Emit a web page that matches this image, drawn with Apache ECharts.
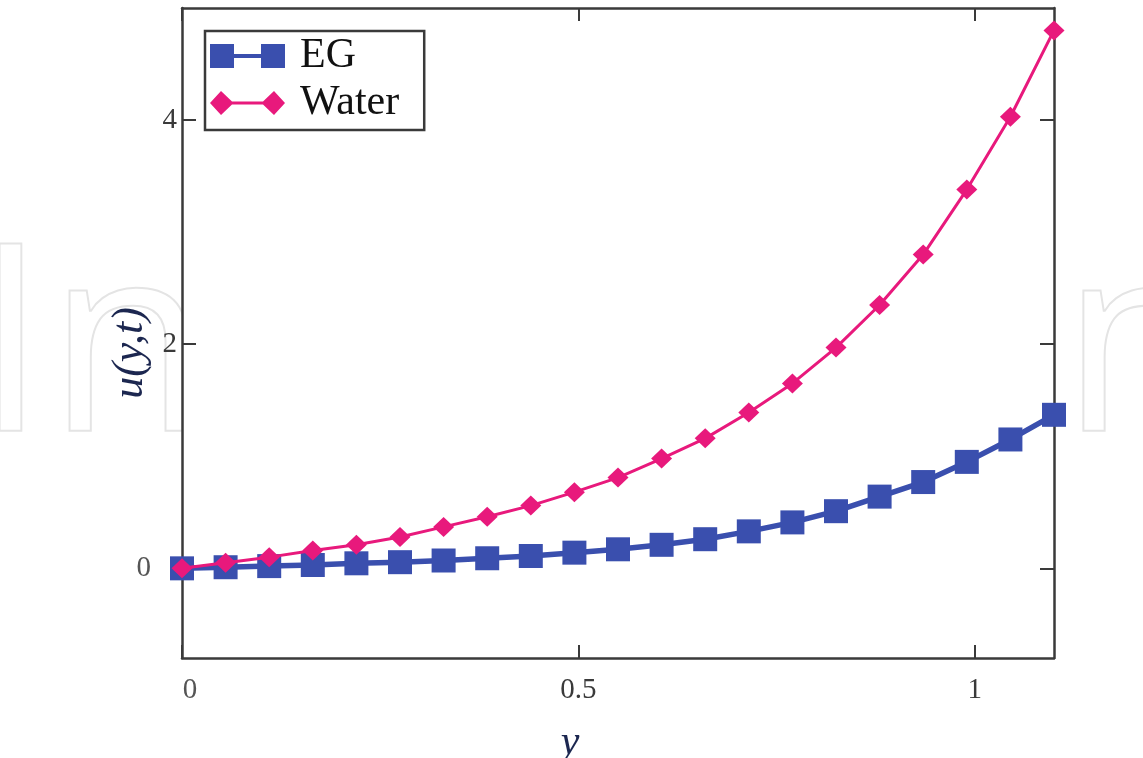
<!DOCTYPE html>
<html>
<head>
<meta charset="utf-8">
<script src="https://cdn.jsdelivr.net/npm/echarts@6/dist/echarts.min.js"></script>
<style>
  html, body { margin: 0; padding: 0; background: #fff; }
  #main { width: 1143px; height: 758px; }
</style>
</head>
<body>
<div id="main"></div>
<script>
// y positions (x-axis values) shared by both curves
var yPos = [0, 0.055, 0.11, 0.165, 0.22, 0.275, 0.33, 0.385, 0.44, 0.495, 0.55,
            0.605, 0.66, 0.715, 0.77, 0.825, 0.88, 0.935, 0.99, 1.045, 1.1];
var egVals = [0, 0.01, 0.02, 0.03, 0.045, 0.055, 0.07, 0.09, 0.11, 0.14, 0.17,
              0.21, 0.26, 0.33, 0.41, 0.51, 0.64, 0.77, 0.95, 1.15, 1.37];
var waterVals = [0, 0.05, 0.10, 0.16, 0.21, 0.28, 0.37, 0.46, 0.56, 0.68, 0.81,
                 0.98, 1.16, 1.39, 1.65, 1.97, 2.35, 2.80, 3.38, 4.03, 4.80];
var xTicks = [0, 0.5, 1];
var yTicks = [0, 2, 4];

var serif = '"Liberation Serif", "DejaVu Serif", serif';
var frame = '#3a3a3a';

// legend icons: line with a marker at each end
var egIcon = 'path://M0 0L24 0L24 10L51 10L51 0L75 0L75 24L51 24L51 14L24 14L24 24L0 24Z';
var waterIcon = 'path://M0 12L11 0L22 10.5L53 10.5L64 0L75 12L64 24L53 13.5L22 13.5L11 24Z';

function pairs(vals) {
  return yPos.map(function (x, i) { return [x, vals[i]]; });
}

var watermark = {
  font: '262px "Open Sans", sans-serif',
  fill: 'rgba(0,0,0,0)',
  stroke: '#e4e4e4',
  lineWidth: 2
};

var chart = echarts.init(document.getElementById('main'));
chart.setOption({
  backgroundColor: '#fff',
  animation: false,
  graphic: [
    { type: 'text', z: -10, left: -27, top: 224, silent: true,
      style: Object.assign({ text: 'In' }, watermark) },
    { type: 'text', z: -10, left: 1060, top: 224, silent: true,
      style: Object.assign({ text: 'n' }, watermark) }
  ],
  grid: {
    left: 182, right: 89, top: 8, bottom: 100,
    outerBoundsMode: 'none',
    show: true, backgroundColor: '#fff', borderWidth: 0
  },
  legend: {
    orient: 'vertical',
    left: 205, top: 31,
    padding: [4, 25, 6, 5],
    itemGap: 5,
    itemWidth: 75, itemHeight: 24,
    borderColor: frame, borderWidth: 2.5,
    textStyle: { fontFamily: serif, fontSize: 42, color: '#111', padding: [0, 0, 0, 10] },
    data: [{ name: 'EG', icon: egIcon }, { name: 'Water', icon: waterIcon }]
  },
  xAxis: [{
    type: 'value', min: 0, max: 1.1, position: 'bottom',
    name: 'y', nameLocation: 'middle', nameGap: 64, nameMoveOverlap: false,
    nameTextStyle: { fontFamily: serif, fontStyle: 'italic', fontSize: 42, color: '#1c2750', padding: [0, 96, 0, 0] },
    axisLine: { show: true, onZero: false, lineStyle: { color: frame, width: 2.5 } },
    axisTick: { show: true, inside: true, length: 13, customValues: xTicks, lineStyle: { color: frame, width: 2 } },
    axisLabel: {
      customValues: xTicks, margin: 18, fontFamily: serif, fontSize: 29, color: '#3a3a3a',
      formatter: function (v) { return v === 0 ? '{z|0}' : String(v); },
      rich: { z: { fontFamily: serif, fontSize: 29, color: '#555', padding: [0, 0, 0, 16] } }
    },
    splitLine: { show: false }
  }, {
    type: 'value', min: 0, max: 1.1, position: 'top',
    axisLine: { show: true, onZero: false, lineStyle: { color: frame, width: 2.5 } },
    axisTick: { show: true, inside: true, length: 13, customValues: xTicks, lineStyle: { color: frame, width: 2 } },
    axisLabel: { show: false },
    splitLine: { show: false }
  }],
  yAxis: [{
    type: 'value', min: -0.8, max: 5, position: 'left',
    name: 'u(y,t)', nameLocation: 'middle', nameGap: 30, nameRotate: 90, nameMoveOverlap: false,
    nameTextStyle: { fontFamily: serif, fontStyle: 'italic', fontSize: 44, color: '#1c2750', padding: [0, 40, 0, 0] },
    axisLine: { show: true, onZero: false, lineStyle: { color: frame, width: 2.5 } },
    axisTick: { show: true, inside: true, length: 14, customValues: yTicks, lineStyle: { color: frame, width: 2 } },
    axisLabel: {
      customValues: yTicks, margin: 5, fontFamily: serif, fontSize: 29, color: '#3a3a3a',
      formatter: function (v) { return v === 0 ? '{z|0}' : String(v); },
      rich: { z: { fontFamily: serif, fontSize: 29, color: '#555', padding: [0, 26, 0, 0] } }
    },
    splitLine: { show: false }
  }, {
    type: 'value', min: -0.8, max: 5, position: 'right',
    axisLine: { show: true, onZero: false, lineStyle: { color: frame, width: 2.5 } },
    axisTick: { show: true, inside: true, length: 14, customValues: yTicks, lineStyle: { color: frame, width: 2 } },
    axisLabel: { show: false },
    splitLine: { show: false }
  }],
  series: [{
    name: 'EG', type: 'line',
    data: pairs(egVals),
    symbol: 'rect', symbolSize: 24,
    itemStyle: { color: '#3a4fae' },
    lineStyle: { color: '#3a4fae', width: 5.5 },
    z: 3
  }, {
    name: 'Water', type: 'line',
    data: pairs(waterVals),
    symbol: 'diamond', symbolSize: [21, 20],
    itemStyle: { color: '#e8197c' },
    lineStyle: { color: '#e8197c', width: 3 },
    z: 4
  }]
});
</script>
</body>
</html>
